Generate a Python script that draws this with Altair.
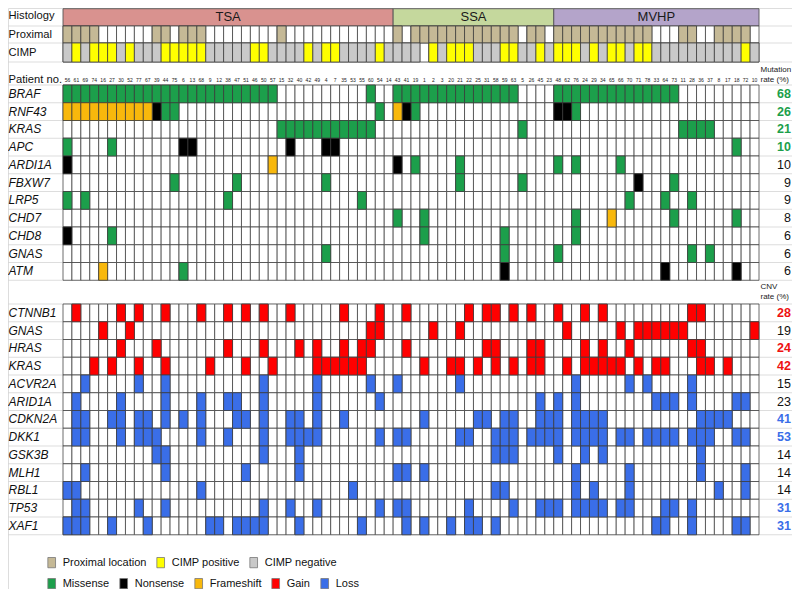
import altair as alt
import pandas as pd

# ---------------- data ----------------
patients = [56, 61, 69, 74, 16, 27, 30, 52, 77, 67, 39, 44, 75, 6, 13, 68, 9, 12, 38, 47,
            51, 46, 50, 57, 15, 32, 40, 42, 49, 4, 7, 35, 53, 55, 60, 54, 14,
            43, 41, 19, 1, 2, 3, 20, 21, 22, 25, 31, 58, 59, 63, 5, 26, 45, 23,
            48, 62, 76, 24, 29, 34, 65, 66, 70, 71, 78, 33, 64, 73, 11, 28, 36, 37, 8,
            17, 18, 72, 10]
histology = ["TSA", "SSA", "MVHP"]
histology_size = [37, 18, 23]

# column positions (0-based, in the order of `patients`)
proximal_cols = "0-3 10 11 13-15 24 37 39-50 52 53 55-65 69 70 73-76"
cimp_pos_cols = "1 3-5 7 11-15 21 22 27 29 30 35 41 43-45 49 50 53 55-57 59 61 62 64 65 76"
cimp_na_cols = "40"

mut_genes = ["BRAF", "RNF43", "KRAS", "APC", "ARDI1A", "FBXW7", "LRP5", "CHD7", "CHD8", "GNAS", "ATM"]
mut_rate = [68, 26, 21, 10, 10, 9, 9, 8, 6, 6, 6]
missense = {
    "BRAF": "0-23 34 37-50 55-68",
    "RNF43": "11 12 35 39 57",
    "KRAS": "24-34 51 69-72",
    "APC": "0 5 75",
    "ARDI1A": "39 44 55 57 62",
    "FBXW7": "12 19 29 44 51 68",
    "LRP5": "0 2 18 33 63 67 70",
    "CHD7": "37 40 57 68 75",
    "CHD8": "5 40 49 57",
    "GNAS": "29 49 55 70 72",
    "ATM": "13",
}
nonsense = {
    "RNF43": "10 38 55 56",
    "APC": "13 14 25 29 30",
    "ARDI1A": "0 37",
    "FBXW7": "64",
    "CHD8": "0",
    "ATM": "49 67 75",
}
frameshift = {
    "RNF43": "0-9 37",
    "ARDI1A": "23",
    "CHD7": "61",
    "ATM": "4",
}

cnv_genes = ["CTNNB1", "GNAS", "HRAS", "KRAS", "ACVR2A", "ARID1A", "CDKN2A", "DKK1",
             "GSK3B", "MLH1", "RBL1", "TP53", "XAF1"]
cnv_rate = [28, 19, 24, 42, 15, 23, 41, 53, 14, 14, 14, 31, 31]
gain = {
    "CTNNB1": "1 6 8 11 15 18 20 22 25 31 35 38 45 47 48 50 52 55 58 60 70 71",
    "GNAS": "4 7 34 35 41 44 56 62 64-69 77",
    "HRAS": "6 10 18 22 26 28 31 33 34 38 47 48 52 53 58 60 63 70 71",
    "KRAS": "3 5 8 11 16 20 23 28-33 40 43 44 46 48 50 52 53 56 58-62 64 66 67 71 72 74",
}
loss = {
    "ACVR2A": "2 8 11 22 28 34 37 44 57 63 65 70",
    "ARID1A": "1 6 11 15 18 19 22 28 35 53 55 57 66-68 70 75 76",
    "CDKN2A": "1 2 5 6 8 9 11 13 15 19 20 22 25 26 28 31 40 46 47 49 50 53-55 57-60 71-74",
    "DKK1": "1 2 6 8-10 15 18 22 25-28 35 37 38 44 45 48-50 52-55 57-60 62 63 65-68 70-72 75 76",
    "GSK3B": "10 11 22 26 48-50 55 58 60 71",
    "MLH1": "2 11 20 26 37 38 40 57 63 71 76",
    "RBL1": "0 1 15 32 48 49 57 59 63 73 76",
    "TP53": "1 2 8 11 22 25 28 35 37 38 45 50 53-55 57-60 62 63 67 68 70",
    "XAF1": "0-2 5 9 16 17 19-22 26 33 38 40 43 45 46 48 66 67 70 75 76",
}

# ---------------- styles ----------------
mut_rate_tone = ["green", "green", "green", "green", "black", "black", "black", "black", "black", "black", "black"]
cnv_rate_tone = ["red", "black", "red", "red", "black", "black", "blue", "blue", "black", "black", "black", "blue", "blue"]
TONE = {"green": "#1c9f4b", "red": "#ee1111", "blue": "#3a6ee8", "black": "#111111"}
HIST_COL = {"TSA": "#d9928f", "SSA": "#c5d89d", "MVHP": "#b4a4ca"}
HDR_DOMAIN = ["Proximal location", "CIMP positive", "CIMP negative"]
HDR_RANGE = ["#c5b996", "#ffff00", "#c9c9c9"]
ALT_DOMAIN = ["Missense", "Nonsense", "Frameshift", "Gain", "Loss"]
ALT_RANGE = ["#1c9f4b", "#000000", "#f8b80c", "#ff0000", "#3a6ee8"]
GRID = "#3c3c3c"
FONT = "Liberation Sans"


def cols(spec):
    out = []
    for tok in spec.split():
        if "-" in tok:
            a, b = tok.split("-")
            out.extend(range(int(a), int(b) + 1))
        else:
            out.append(int(tok))
    return out


# ---------------- layout ----------------
W, H = 784, 581
N = len(patients)
GX0, GX1 = 55, 751
CW = (GX1 - GX0) / N
GY0 = 77
RH = 17.75


def cx(px):
    return (px - GX0) / CW


def ry(px):
    return (px - GY0) / RH


HIST = (ry(0.7), ry(18))
PROX = (ry(18), ry(35))
CIMP = (ry(35), ry(54))
PAT_Y = ry(71.5)
CNV0 = ry(296)

xs = alt.Scale(domain=[cx(0), cx(W)], nice=False, zero=False)
ys = alt.Scale(domain=[ry(0), ry(H)], nice=False, zero=False, reverse=True)


def rect_enc():
    return dict(x=alt.X("x0:Q", scale=xs, axis=None), x2="x1:Q",
                y=alt.Y("y0:Q", scale=ys, axis=None), y2="y1:Q")


def text_enc():
    return dict(x=alt.X("x:Q", scale=xs, axis=None), y=alt.Y("y:Q", scale=ys, axis=None), text="text:N")


# background cells
bg = []
for i in range(N):
    bg.append(dict(x0=i, x1=i + 1, y0=PROX[0], y1=PROX[1]))
    bg.append(dict(x0=i, x1=i + 1, y0=CIMP[0], y1=CIMP[1]))
    for k in range(len(mut_genes)):
        bg.append(dict(x0=i, x1=i + 1, y0=k, y1=k + 1))
    for k in range(len(cnv_genes)):
        bg.append(dict(x0=i, x1=i + 1, y0=CNV0 + k, y1=CNV0 + k + 1))
bg = pd.DataFrame(bg)

# header status cells
hdr = []
for i in cols(proximal_cols):
    hdr.append(dict(x0=i, x1=i + 1, y0=PROX[0], y1=PROX[1], status="Proximal location"))
pos, na = set(cols(cimp_pos_cols)), set(cols(cimp_na_cols))
for i in range(N):
    if i in na:
        continue
    hdr.append(dict(x0=i, x1=i + 1, y0=CIMP[0], y1=CIMP[1],
                    status="CIMP positive" if i in pos else "CIMP negative"))
hdr = pd.DataFrame(hdr)

# alteration cells
alts = []
for kind, table in [("Missense", missense), ("Nonsense", nonsense), ("Frameshift", frameshift)]:
    for g, spec in table.items():
        k = mut_genes.index(g)
        for i in cols(spec):
            alts.append(dict(x0=i, x1=i + 1, y0=k, y1=k + 1, status=kind))
for kind, table in [("Gain", gain), ("Loss", loss)]:
    for g, spec in table.items():
        k = cnv_genes.index(g)
        for i in cols(spec):
            alts.append(dict(x0=i, x1=i + 1, y0=CNV0 + k, y1=CNV0 + k + 1, status=kind))
alts = pd.DataFrame(alts)

# histology boxes
hist = []
start = 0
for name, n in zip(histology, histology_size):
    hist.append(dict(x0=start, x1=start + n, y0=HIST[0], y1=HIST[1], text=name,
                     x=start + n / 2, y=(HIST[0] + HIST[1]) / 2))
    start += n
hist = pd.DataFrame(hist)

# separators
seps = [PROX[0], CIMP[0], CIMP[1]] + list(range(len(mut_genes) + 1)) + \
       [CNV0 + k for k in range(len(cnv_genes) + 1)]
seps = pd.DataFrame(dict(y=seps))

# texts
head_lab = pd.DataFrame(dict(
    text=["Histology", "Proximal", "CIMP", "Patient no."],
    y=[(HIST[0] + HIST[1]) / 2 - 0.1, (PROX[0] + PROX[1]) / 2, (CIMP[0] + CIMP[1]) / 2, PAT_Y],
    x=[cx(0.5)] * 4))
gene_lab = pd.DataFrame(dict(
    text=mut_genes + cnv_genes,
    y=[k + 0.5 for k in range(len(mut_genes))] + [CNV0 + k + 0.5 for k in range(len(cnv_genes))],
    x=[cx(0.5)] * (len(mut_genes) + len(cnv_genes))))
pat_lab = pd.DataFrame(dict(text=[str(p) for p in patients], x=[i + 0.5 for i in range(N)], y=[PAT_Y] * N))
rates = pd.DataFrame(dict(
    text=[str(r) for r in mut_rate] + [str(r) for r in cnv_rate],
    tone=mut_rate_tone + cnv_rate_tone,
    y=[k + 0.5 for k in range(len(mut_genes))] + [CNV0 + k + 0.5 for k in range(len(cnv_genes))],
    x=[cx(783)] * (len(mut_genes) + len(cnv_genes))))
rate_head = pd.DataFrame(dict(text=["Mutation", "rate (%)", "CNV", "rate (%)"],
                              x=[cx(752.5)] * 4,
                              y=[ry(61.5), ry(71.5), ry(279), ry(289)]))

RECT = "M-0.75,-1H0.75V1H-0.75Z"
leg_common = dict(orient="none", direction="horizontal", title=None, symbolType=RECT,
                  symbolSize=105, labelFont=FONT, labelFontSize=11, labelColor="#111",
                  labelOffset=5, columnPadding=8, padding=0, symbolStrokeColor="#777",
                  symbolStrokeWidth=0.8)

layers = []
layers.append(alt.Chart(seps).mark_rule(color="#d4d4d4", strokeWidth=0.8).encode(
    x=alt.value(0), x2=alt.value(W), y=alt.Y("y:Q", scale=ys, axis=None)))
for name in histology:
    layers.append(alt.Chart(hist).transform_filter(alt.datum.text == name).mark_rect(
        fill=HIST_COL[name], stroke="#555", strokeWidth=0.9).encode(**rect_enc()))
layers.append(alt.Chart(hist).mark_text(fontSize=13, color="#1a1a1a", font=FONT).encode(**text_enc()))
layers.append(alt.Chart(bg).mark_rect(fill="white", stroke=GRID, strokeWidth=0.75).encode(**rect_enc()))
layers.append(alt.Chart(hdr).mark_rect(stroke=GRID, strokeWidth=0.75).encode(
    fill=alt.Fill("status:N", scale=alt.Scale(domain=HDR_DOMAIN, range=HDR_RANGE),
                  legend=alt.Legend(legendX=37.7, legendY=548.5, columns=3, **leg_common)),
    **rect_enc()))
layers.append(alt.Chart(alts).mark_rect(stroke=GRID, strokeWidth=0.75).encode(
    color=alt.Color("status:N", scale=alt.Scale(domain=ALT_DOMAIN, range=ALT_RANGE),
                    legend=alt.Legend(legendX=37.7, legendY=569.5, columns=5, **leg_common)),
    **rect_enc()))
layers.append(alt.Chart(head_lab).mark_text(align="left", baseline="middle", fontSize=11.2,
                                            color="#111", font=FONT).encode(**text_enc()))
layers.append(alt.Chart(gene_lab).mark_text(align="left", baseline="middle", fontSize=12,
                                            fontStyle="italic", color="#111", font=FONT).encode(**text_enc()))
layers.append(alt.Chart(pat_lab).mark_text(align="center", baseline="middle", fontSize=5,
                                           color="#222", font=FONT).encode(**text_enc()))
for tone, col in TONE.items():
    layers.append(alt.Chart(rates).transform_filter(alt.datum.tone == tone).mark_text(
        align="right", baseline="middle", fontSize=12.5, color=col, font=FONT,
        fontWeight="normal" if tone == "black" else "bold").encode(**text_enc()))
layers.append(alt.Chart(rate_head).mark_text(align="left", baseline="middle", fontSize=8,
                                             color="#222", font=FONT).encode(**text_enc()))

chart = alt.layer(*layers).properties(
    width=W, height=H, padding=0, autosize=alt.AutoSizeParams(type="none")
).configure_view(stroke=None).configure(font=FONT)

chart.save("out.html", embed_options={"renderer": "svg", "actions": False})
